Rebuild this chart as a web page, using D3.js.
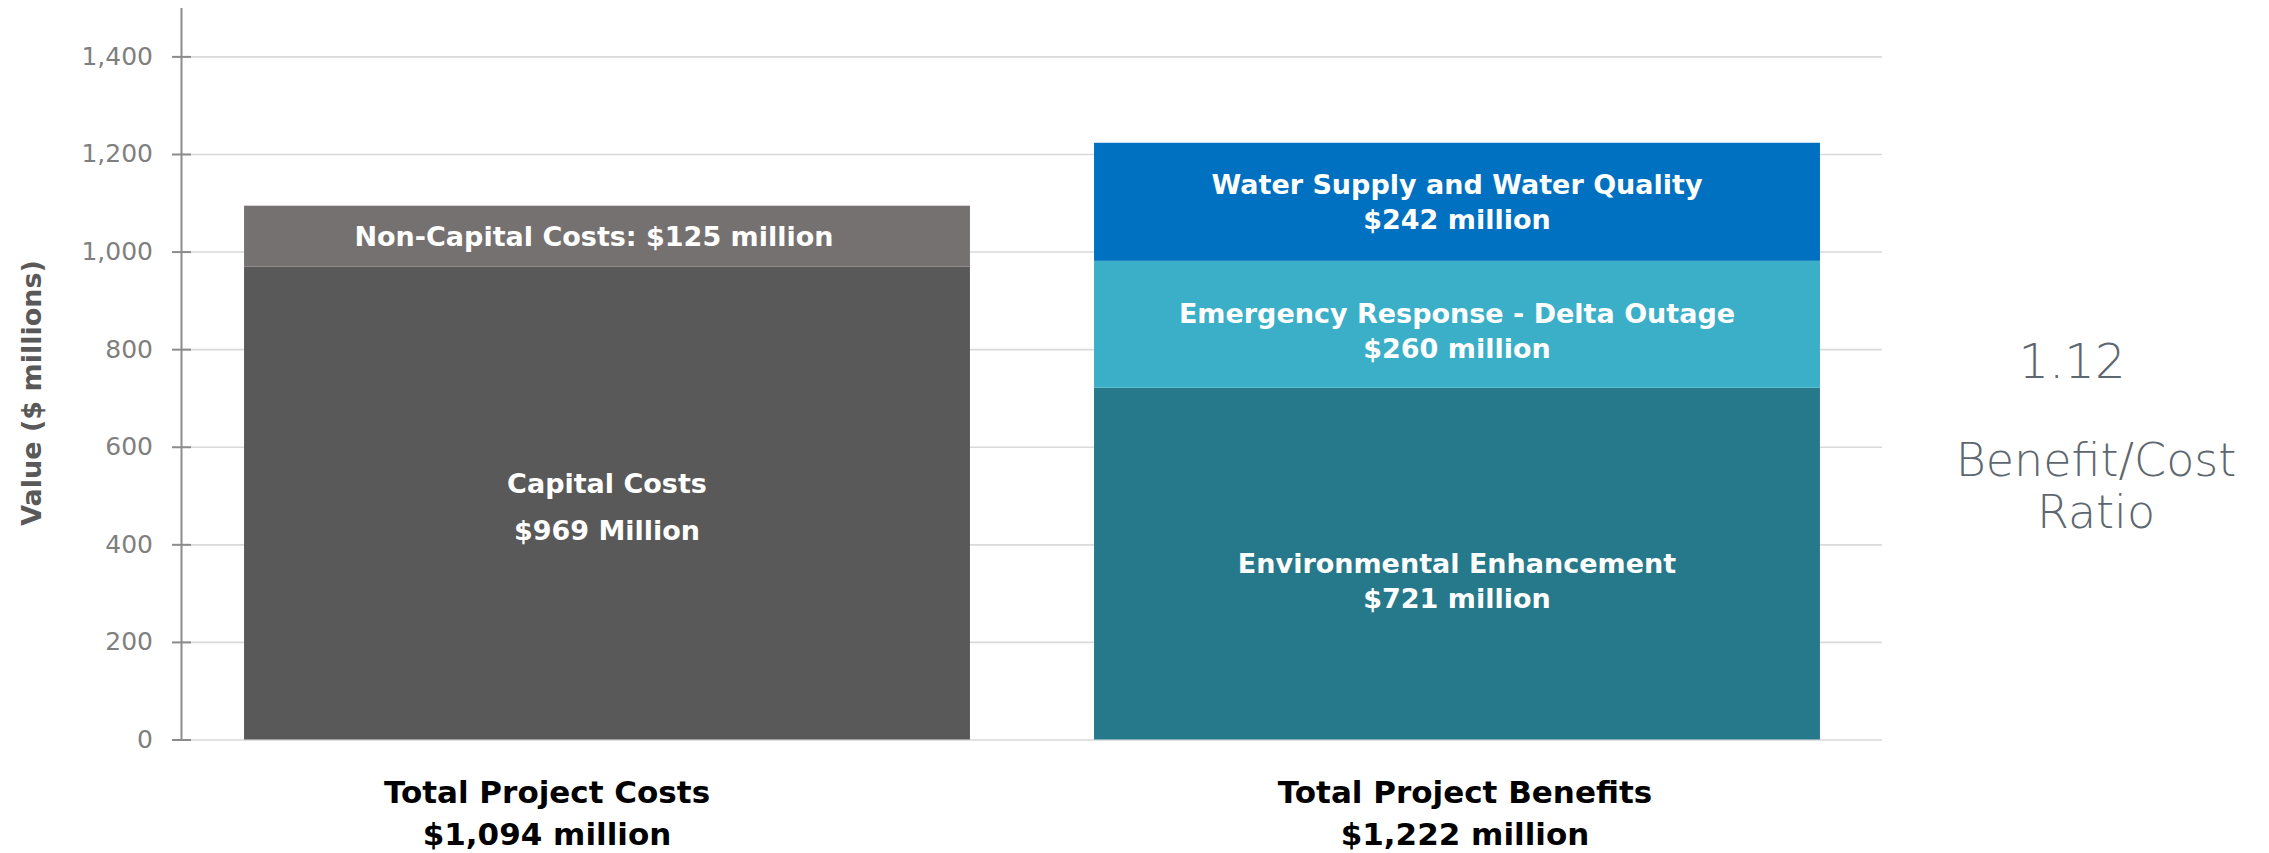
<!DOCTYPE html>
<html>
<head>
<meta charset="utf-8">
<script src="https://cdn.jsdelivr.net/npm/d3@7"></script>
<style>
  body { margin: 0; background: #fff; }
  text { font-family: 'DejaVu Sans', sans-serif; }
</style>
</head>
<body>
<svg id="chart" width="2269" height="853"></svg>
<script>
// data
const categories = ['Total Project Costs', 'Total Project Benefits']
const categoryTotals = ['$1,094 million', '$1,222 million']

const costNames = ['Capital Costs', 'Non-Capital Costs']
const costValues = [969, 125]
const costColors = ['#595959', '#767171']
const costLabels = [['Capital Costs', '$969 Million'], ['Non-Capital Costs: $125 million']]

const benefitNames = ['Environmental Enhancement', 'Emergency Response - Delta Outage', 'Water Supply and Water Quality']
const benefitValues = [721, 260, 242]
const benefitColors = ['#26798A', '#3AAFC7', '#0070C0']
const benefitLabels = [
    ['Environmental Enhancement', '$721 million'],
    ['Emergency Response - Delta Outage', '$260 million'],
    ['Water Supply and Water Quality', '$242 million']
]

const yTicks = [0, 200, 400, 600, 800, 1000, 1200, 1400]
const ratioValue = '1.12'
const ratioLabel = ['Benefit/Cost', 'Ratio']

const svg = d3.select('#chart')

const x = d3.scaleBand()
    .domain(categories)
    .range([182, 1882])
    .paddingInner(0.146)
    .paddingOuter(0.073)

const y = d3.scaleLinear()
    .domain([0, 1500])
    .range([739.5, 7.6])

// gridlines
svg.append('g')
    .attr('transform', 'translate(182,0)')
    .call(d3.axisLeft(y).tickValues(yTicks).tickSize(-1700).tickFormat(''))
    .call(g => g.select('.domain').remove())
    .call(g => g.selectAll('line').attr('stroke', '#d9d9d9').attr('stroke-width', 1.6))

// stacked segments
const rows = []
const addStack = (cat, names, values, colors, labels) => {
    let base = 0
    names.forEach((n, i) => {
        rows.push({ cat, name: n, y0: base, y1: base + values[i], color: colors[i], label: labels[i] })
        base += values[i]
    })
}
addStack(categories[0], costNames, costValues, costColors, costLabels)
addStack(categories[1], benefitNames, benefitValues, benefitColors, benefitLabels)

svg.append('g')
    .selectAll('rect')
    .data(rows)
    .enter().append('rect')
    .attr('x', d => x(d.cat))
    .attr('width', x.bandwidth())
    .attr('y', d => y(d.y1))
    .attr('height', d => y(d.y0) - y(d.y1))
    .attr('fill', d => d.color)

// segment labels
const labelNudge = { 'Environmental Enhancement': 17, 'Emergency Response - Delta Outage': 6, 'Capital Costs': 3 }
const lineGap = { 'Capital Costs': 47 }

rows.forEach(d => {
    const mid = (y(d.y0) + y(d.y1)) / 2
    const gap = lineGap[d.name] || 35
    const first = mid - (d.label.length - 1) * gap / 2 + 10 + (labelNudge[d.name] || 0)
    const t = svg.append('text')
        .attr('text-anchor', 'middle')
        .attr('fill', '#ffffff')
        .style('font-size', '27px')
        .style('font-weight', 'bold')
    d.label.forEach((l, i) => {
        t.append('tspan')
            .attr('x', x(d.cat) + x.bandwidth() / 2 + (d.name === 'Non-Capital Costs' ? -13 : 0))
            .attr('y', first + i * gap)
            .text(l)
    })
})

// y axis
const yAxis = svg.append('g')
    .attr('transform', 'translate(181,0)')
    .call(d3.axisLeft(y).tickValues(yTicks).tickSize(9).tickSizeOuter(0).tickPadding(19).tickFormat(d3.format(',')))

yAxis.select('.domain').attr('stroke', '#8c8c8c').attr('stroke-width', 2)
yAxis.selectAll('.tick line').attr('x1', -9).attr('x2', 10).attr('stroke', '#8c8c8c').attr('stroke-width', 2)
yAxis.selectAll('.tick text')
    .attr('fill', '#7f7f7f')
    .style('font-size', '25px')
    .style('font-family', "'DejaVu Sans', sans-serif")

svg.append('text')
    .attr('transform', 'translate(31,393) rotate(-90)')
    .attr('text-anchor', 'middle')
    .attr('dy', '0.36em')
    .attr('fill', '#595959')
    .style('font-size', '27px')
    .style('font-weight', 'bold')
    .text('Value ($ millions)')

// category labels under the bars
const catNudge = [-60, 8]
categories.forEach((c, i) => {
    const t = svg.append('text')
        .attr('text-anchor', 'middle')
        .attr('fill', '#000000')
        .style('font-size', '31px')
        .style('font-weight', 'bold')
    ;[c, categoryTotals[i]].forEach((l, j) => {
        t.append('tspan')
            .attr('x', x(c) + x.bandwidth() / 2 + catNudge[i])
            .attr('y', 803 + j * 42)
            .text(l)
    })
})

// ratio annotation
svg.append('text')
    .attr('x', 2072)
    .attr('y', 378)
    .attr('text-anchor', 'middle')
    .attr('fill', '#5d6770')
    .style('font-family', "'DejaVu Sans ExtraLight', 'DejaVu Sans', sans-serif")
    .style('font-weight', 200)
    .style('font-size', '48px')
    .text(ratioValue)

ratioLabel.forEach((l, i) => {
    svg.append('text')
        .attr('x', 2096)
        .attr('y', 476 + i * 52)
        .attr('text-anchor', 'middle')
        .attr('fill', '#5d6770')
        .style('font-family', "'DejaVu Sans ExtraLight', 'DejaVu Sans', sans-serif")
        .style('font-weight', 200)
        .style('font-size', '46px')
        .text(l)
})
</script>
</body>
</html>
